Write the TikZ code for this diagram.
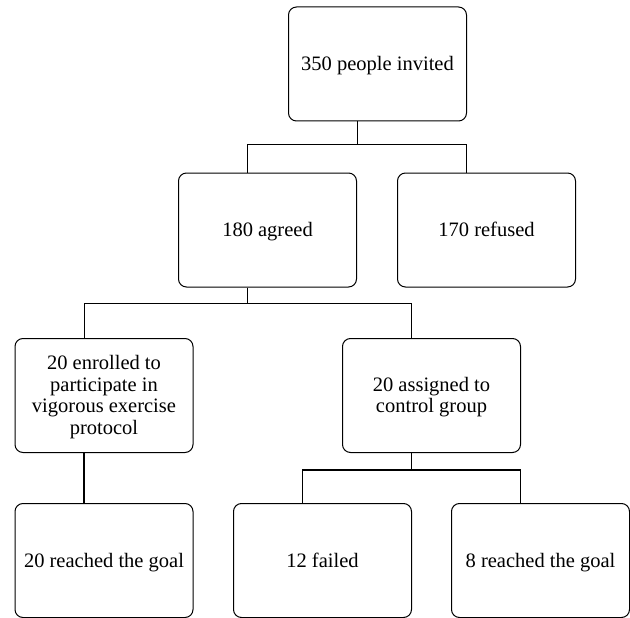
\documentclass[tikz,border=0pt]{standalone}
\usepackage{fontspec}
\setmainfont{Liberation Serif}
\usetikzlibrary{calc}
\tikzset{
  boxnode/.style={draw, line width=1pt, rounded corners=8pt, minimum width=178pt, minimum height=114pt, inner sep=0pt, align=center, font=\fontsize{20.5}{21.7}\selectfont},
  onebox/.style={boxnode, text height=14pt, text depth=0.4pt},
  link/.style={line width=1.3pt},
}
\newcommand{\toprule}{\rule{0pt}{19.4pt}}
\begin{document}
\begin{tikzpicture}[x=1pt,y=-1pt]
\useasboundingbox (0,0) rectangle (630,618);
\node[onebox] (b1) at (377.5,64) {350 people invited};
\node[onebox] (b2) at (267.5,230) {180 agreed};
\node[onebox] (b3) at (486.5,230) {170 refused};
\node[boxnode] (b4) at (104,395.5) {\toprule 20 enrolled to\\participate in\\vigorous exercise\\protocol\strut};
\node[boxnode] (b5) at (431.5,395.5) {\toprule 20 assigned to\\control group\strut};
\node[onebox] (b6) at (104,560.5) {20 reached the goal};
\node[onebox] (b7) at (322.5,560.5) {12 failed};
\node[onebox] (b8) at (540.5,560.5) {8 reached the goal};
% connection points
\coordinate (b1s) at ($(b1.south west)!0.39!(b1.south east)$);
\coordinate (b2n) at ($(b2.north west)!0.39!(b2.north east)$);
\coordinate (b2s) at ($(b2.south west)!0.39!(b2.south east)$);
\coordinate (b3n) at ($(b3.north west)!0.39!(b3.north east)$);
\coordinate (b4n) at ($(b4.north west)!0.39!(b4.north east)$);
\coordinate (b4s) at ($(b4.south west)!0.39!(b4.south east)$);
\coordinate (b5n) at ($(b5.north west)!0.39!(b5.north east)$);
\coordinate (b5s) at ($(b5.south west)!0.39!(b5.south east)$);
\coordinate (b6n) at ($(b6.north west)!0.39!(b6.north east)$);
\coordinate (b7n) at ($(b7.north west)!0.39!(b7.north east)$);
\coordinate (b8n) at ($(b8.north west)!0.39!(b8.north east)$);
\coordinate (j1) at ($(b1s)+(0,23)$);
\coordinate (j2) at ($(b2s)+(0,16)$);
\coordinate (j3) at ($(b5s)+(0,17)$);
\draw[link] (b1s) -- (j1);
\draw[link] (b2n) |- (j1) -| (b3n);
\draw[link] (b2s) -- (j2);
\draw[link] (b4n) |- (j2) -| (b5n);
\draw[line width=1.8pt] (b4s) -- (b6n);
\draw[link] (b5s) -- (j3);
\draw[link] (b7n) |- (j3) -| (b8n);
\end{tikzpicture}
\end{document}
